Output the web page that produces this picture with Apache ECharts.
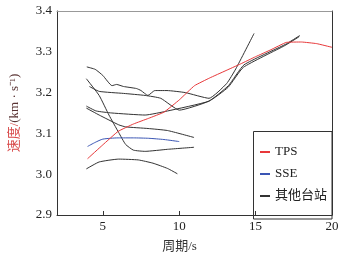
<!DOCTYPE html>
<html><head><meta charset="utf-8">
<script src="https://cdn.jsdelivr.net/npm/echarts@6/dist/echarts.min.js"></script>
<style>html,body{margin:0;padding:0;background:#fff}#c{width:345px;height:258px}</style>
</head><body><div id="c"></div>
<script>
const xTicks = [5, 10, 15, 20];
const yMin = 2.9, yMax = 3.4, yStep = 0.1;

const tpsPeriod = [4, 5, 6, 7, 8, 9, 10, 11, 12, 13, 14, 15, 16, 17, 18, 19, 20];
const tpsVel    = [3.038, 3.072, 3.105, 3.123, 3.137, 3.152, 3.182, 3.217, 3.236, 3.253, 3.270, 3.288, 3.305, 3.323, 3.324, 3.320, 3.311];

const ssePeriod = [4, 4.5, 5, 6, 7, 8, 9, 10];
const sseVel    = [3.068, 3.078, 3.086, 3.089, 3.089, 3.088, 3.085, 3.080];

const aPeriod = [3.95, 4.5, 5.0, 5.6, 5.9, 6.35, 7.2, 7.5, 7.95, 8.4, 9.2, 10.4, 11.95, 13.1, 13.7, 14.9];
const aVel    = [3.263, 3.257, 3.242, 3.217, 3.220, 3.215, 3.210, 3.205, 3.193, 3.205, 3.205, 3.200, 3.186, 3.222, 3.258, 3.345];

const bPeriod = [3.92, 4.76, 5.4, 6.04, 6.49, 7.0, 7.77, 9.24, 10.97];
const bVel    = [3.234, 3.193, 3.145, 3.102, 3.073, 3.059, 3.056, 3.061, 3.066];

const cPeriod = [4.12, 4.76, 6.36, 7.77, 8.79, 10.01, 11.94, 13.22, 14.24, 16.94, 17.9];
const cVel    = [3.215, 3.203, 3.198, 3.193, 3.186, 3.157, 3.179, 3.217, 3.268, 3.318, 3.340];

const dPeriod = [3.92, 4.56, 5.59, 7.77, 9.24, 11.94, 13.2, 14.2, 16.9, 17.85];
const dVel    = [3.167, 3.155, 3.150, 3.145, 3.155, 3.179, 3.213, 3.262, 3.315, 3.337];

const ePeriod = [3.92, 4.76, 6.04, 6.49, 7.96, 9.24, 10.97];
const eVel    = [3.162, 3.145, 3.121, 3.116, 3.112, 3.107, 3.090];

const fPeriod = [3.92, 4.76, 6.04, 7.32, 8.28, 9.24, 9.88];
const fVel    = [3.013, 3.030, 3.037, 3.035, 3.027, 3.014, 3.001];

const zip = (xs, ys) => xs.map((x, i) => [x, ys[i]]);
const SERIF = '"Liberation Serif", "Noto Sans CJK SC", serif';
const others = [[aPeriod, aVel], [bPeriod, bVel], [cPeriod, cVel], [dPeriod, dVel], [ePeriod, eVel], [fPeriod, fVel]];

const series = [];
others.forEach(([p, v]) => series.push({
  name: '其他台站', type: 'line', data: zip(p, v), symbol: 'none', smooth: 0.15,
  color: '#333', lineStyle: { color: '#333', width: 1 }, z: 2
}));
series.push({ name: 'SSE', type: 'line', data: zip(ssePeriod, sseVel), symbol: 'none', smooth: 0.2,
  color: '#3a55b4', lineStyle: { color: '#3a55b4', width: 1 }, z: 3 });
series.push({ name: 'TPS', type: 'line', data: zip(tpsPeriod, tpsVel), symbol: 'none', smooth: 0.1,
  color: '#e8383a', lineStyle: { color: '#e8383a', width: 1 }, z: 4 });

const chart = echarts.init(document.getElementById('c'), null, { renderer: 'canvas' });
chart.setOption({
  animation: false,
  backgroundColor: '#fff',
  grid: { left: 52, right: 13, top: 11, bottom: 39 },
  xAxis: [{
    type: 'value', min: 2, max: 20,
    axisLine: { onZero: false, lineStyle: { color: '#333', width: 1 } },
    axisTick: { inside: true, length: 4, customValues: xTicks, lineStyle: { color: '#333' } },
    axisLabel: { customValues: xTicks, color: '#222', fontFamily: SERIF, fontSize: 13, margin: 5 },
    splitLine: { show: false },
    name: '周期/s', nameLocation: 'middle', nameGap: 25,
    nameTextStyle: { color: '#333', fontFamily: SERIF, fontSize: 13, padding: [0, 30, 0, 0] }
  }, {
    type: 'value', min: 2, max: 20, position: 'top',
    axisLine: { onZero: false, lineStyle: { color: '#999', width: 1 } },
    axisTick: { show: false }, axisLabel: { show: false }, splitLine: { show: false }
  }],
  yAxis: [{
    type: 'value', min: yMin, max: yMax, interval: yStep,
    axisLine: { show: true, onZero: false, lineStyle: { color: '#333', width: 1 } },
    axisTick: { show: false },
    axisLabel: { color: '#222', fontFamily: SERIF, fontSize: 13, margin: 5, formatter: v => v.toFixed(1) },
    splitLine: { show: false },
    name: '{r|速度/}{k|(km · s⁻¹)}', nameLocation: 'middle', nameGap: 36, nameRotate: 90,
    nameTextStyle: { fontFamily: SERIF, fontSize: 13,
      rich: { r: { color: '#d84848', fontFamily: SERIF, fontSize: 13 }, k: { color: '#5a3434', fontFamily: SERIF, fontSize: 13 } } }
  }, {
    type: 'value', min: yMin, max: yMax, interval: yStep, position: 'right',
    axisLine: { show: true, onZero: false, lineStyle: { color: '#333', width: 1 } },
    axisTick: { show: false }, axisLabel: { show: false }, splitLine: { show: false }
  }],
  legend: {
    orient: 'vertical', left: 260, top: 145, padding: 0, itemGap: 8,
    icon: 'rect', itemWidth: 10, itemHeight: 2,
    data: ['TPS', 'SSE', '其他台站'],
    textStyle: { color: '#222', fontFamily: SERIF, fontSize: 13, lineHeight: 14 }
  },
  graphic: [{
    type: 'rect', shape: { x: 253.5, y: 131.5, width: 78.5, height: 87.5 },
    style: { fill: 'rgba(0,0,0,0)', stroke: '#333', lineWidth: 1 }, z: 10, silent: true
  }],
  series
});
</script></body></html>
